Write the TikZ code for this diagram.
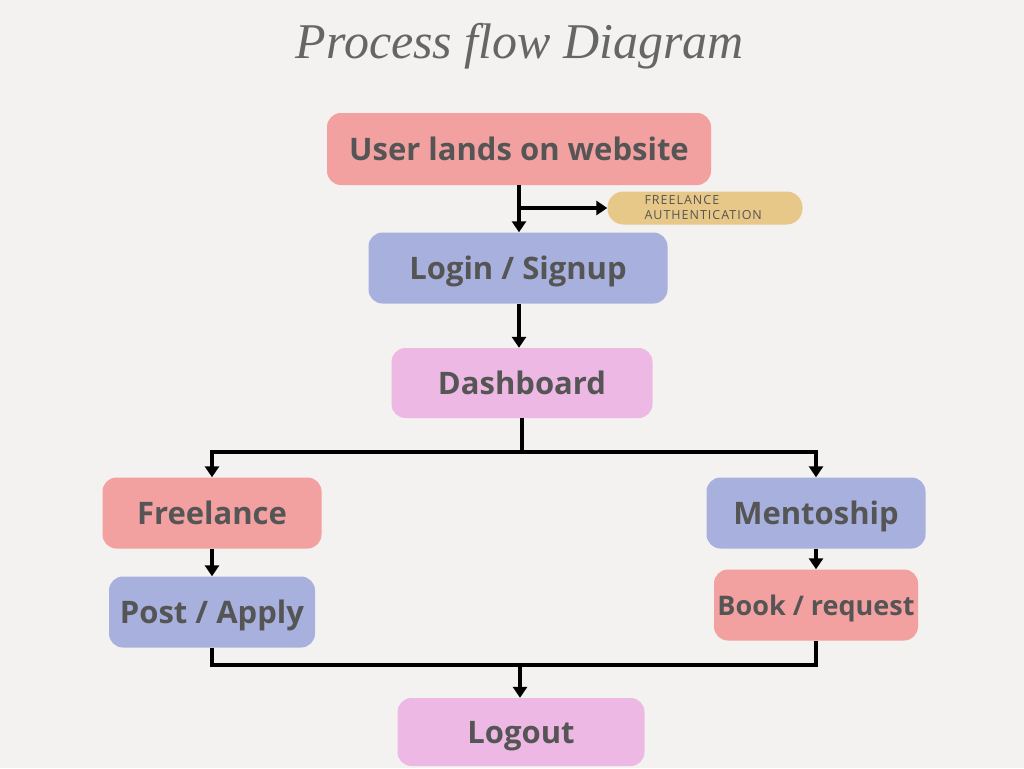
\documentclass[tikz,border=0pt]{standalone}
\usepackage{fontspec}
\usepackage{xcolor}
\usetikzlibrary{arrows.meta}
\setmainfont{Open Sans}
\newfontfamily\pillfont[LetterSpace=8]{Open Sans}
\newfontfamily\titlefont{Liberation Serif}

\definecolor{bg}{HTML}{F3F2F0}
\definecolor{txt}{HTML}{555555}
\definecolor{salmon}{HTML}{F2A0A0}
\definecolor{lavender}{HTML}{A8B0DE}
\definecolor{orchid}{HTML}{EDB8E3}
\definecolor{sand}{HTML}{E8C888}

\tikzset{
  box/.style={rounded corners=14pt, inner sep=0pt, text=txt, minimum height=71pt,
    text height=22pt, text depth=0pt, font=\bfseries\fontsize{31}{36}\selectfont},
  pill/.style={rounded corners=16pt, fill=sand, text=txt, inner xsep=37pt, inner ysep=3pt,
    minimum height=33pt, text width=121pt, align=left, font=\pillfont\fontsize{12.5}{15}\selectfont},
  line/.style={line width=3.5pt},
  arr/.style={line, -{Triangle[length=11pt,width=14pt]}}
}

\begin{document}
\begin{tikzpicture}[x=1pt,y=-1pt]
    \fill[bg] (0,0) rectangle (1024,768);
    \useasboundingbox (0,0) rectangle (1024,768);

    \node[font=\titlefont\itshape\fontsize{50}{60}\selectfont, text=txt!90] (title) at (520,46) {Process flow Diagram};

    \node[box, fill=salmon, minimum width=384pt, minimum height=72pt] (user) at (519,149) {User lands on website};
    \node[pill] (auth) at (705,208) {FREELANCE\\AUTHENTICATION};
    \node[box, fill=lavender, minimum width=299pt] (login) at (518,268) {Login / Signup};
    \node[box, fill=orchid, minimum width=261pt, minimum height=70pt] (dash) at (522,383) {Dashboard};

    \node[box, fill=salmon, minimum width=219pt] (free) at (212,513) {Freelance};
    \node[box, fill=lavender, minimum width=219pt] (ment) at (816,513) {Mentoship};
    \node[box, fill=lavender, minimum width=206pt] (post) at (212,612) {Post / Apply};
    \node[box, fill=salmon, minimum width=204pt, text height=20pt, font=\bfseries\fontsize{27}{32}\selectfont] (book) at (816,605) {Book / request};
    \node[box, fill=orchid, minimum width=247pt, minimum height=68pt] (logout) at (521,732) {Logout};

    \coordinate (fork) at (522,452);
    \coordinate (join) at (520,665);

    \draw[arr] (user.south) -- (user.south |- login.north);
    \draw[arr] (user.south |- auth.west) -- (auth.west);
    \draw[arr] (user.south |- login.south) -- (user.south |- dash.north);
    \draw[line] (dash.south) -- (fork);
    \draw[arr] (fork) -| (free.north);
    \draw[arr] (fork) -| (ment.north);
    \draw[arr] (free.south) -- (post.north);
    \draw[arr] (ment.south) -- (book.north);
    \draw[line] (post.south) |- (join) -| (book.south);
    \draw[arr] (join) -- (join |- logout.north);
\end{tikzpicture}
\end{document}
